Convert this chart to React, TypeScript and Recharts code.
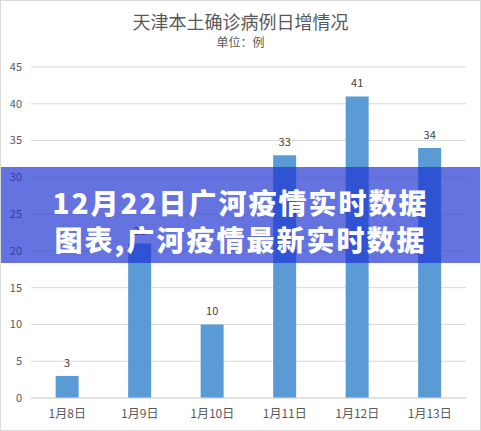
import { BarChart, Bar, XAxis, YAxis, CartesianGrid, LabelList } from 'recharts';

const categories = ['1月8日', '1月9日', '1月10日', '1月11日', '1月12日', '1月13日'];
const cases = [3, 21, 10, 33, 41, 34];
const yTicks = [0, 5, 10, 15, 20, 25, 30, 35, 40, 45];
const edgeTicks = [0, 1, 2, 3, 4, 5, 6];

const data = categories.map((day, i) => ({ day, cases: cases[i] }));

const font = '"Noto Sans CJK SC", "Noto Sans", sans-serif';

export default function App() {
  return (
    <div style={{ position: 'absolute', left: 0, top: 0, width: 481, height: 431, background: '#fff', fontFamily: font }}>
      <div style={{ position: 'absolute', top: 9, width: '100%', textAlign: 'center', fontSize: 18, color: '#595959', lineHeight: '24px' }}>
        天津本土确诊病例日增情况
      </div>
      <div style={{ position: 'absolute', top: 33, width: '100%', textAlign: 'center', fontSize: 12, color: '#595959', lineHeight: '18px' }}>
        单位：例
      </div>
      <BarChart
        width={481}
        height={431}
        data={data}
        margin={{ top: 67, right: 15, bottom: 8, left: 0 }}
        barCategoryGap="34%"
        style={{ position: 'absolute', left: 0, top: 0 }}
      >
        <CartesianGrid stroke="#d9d9d9" vertical={false} />
        <XAxis
          xAxisId="edges"
          type="number"
          domain={[0, 6]}
          ticks={edgeTicks}
          allowDataOverflow
          height={0}
          axisLine={false}
          tickSize={5}
          tickLine={{ stroke: '#d9d9d9' }}
          tickFormatter={() => ''}
        />
        <XAxis
          xAxisId="cat"
          dataKey="day"
          height={25}
          axisLine={{ stroke: '#d9d9d9' }}
          tickLine={false}
          tickSize={0}
          tickMargin={11}
          tick={{ fill: '#595959', fontSize: 12, fontFamily: font }}
        />
        <YAxis
          width={31}
          domain={[0, 45]}
          ticks={yTicks}
          axisLine={false}
          tickLine={false}
          tickSize={0}
          tickMargin={9}
          tick={{ fill: '#595959', fontSize: 11, fontFamily: font }}
        />
        <Bar xAxisId="cat" dataKey="cases" fill="#5b9bd5" isAnimationActive={false}>
          <LabelList dataKey="cases" position="top" offset={9} fill="#404040" fontSize={11} fontFamily={font} />
        </Bar>
      </BarChart>
      <div
        style={{
          position: 'absolute',
          left: 0,
          top: 167,
          width: 481,
          height: 96,
          background: 'rgba(28, 49, 210, 0.68)',
          color: '#fff',
          fontWeight: 900,
          fontSize: 28,
          lineHeight: '37px',
          letterSpacing: 2,
          textAlign: 'center',
          paddingTop: 17,
          boxSizing: 'border-box',
          overflow: 'hidden',
        }}
      >
        <div>12月22日广河疫情实时数据</div>
        <div>图表,广河疫情最新实时数据</div>
      </div>
      <div style={{ position: 'absolute', left: 0, top: 0, width: 481, height: 431, border: '1px solid #d9d9d9', boxSizing: 'border-box', pointerEvents: 'none' }} />
    </div>
  );
}
